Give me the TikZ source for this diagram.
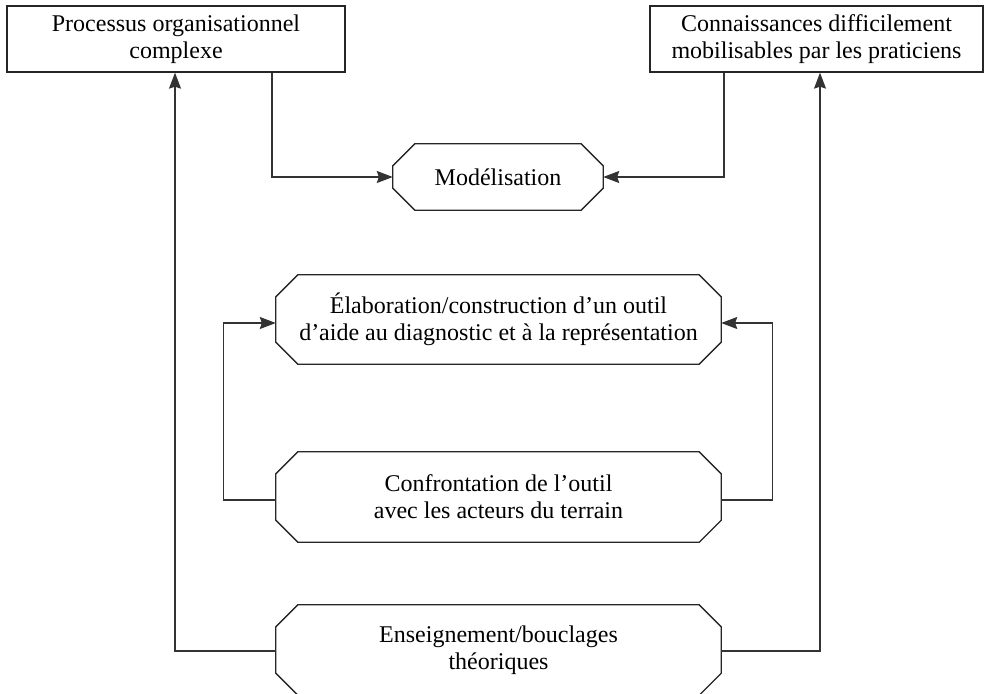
\documentclass[tikz,border=0pt]{standalone}
\usepackage{fontspec}
\setmainfont{Liberation Serif}
\usetikzlibrary{arrows.meta}
\tikzset{
  boxline/.style={line width=1.3pt, draw=black!85, line join=miter},
  rectbox/.style={boxline, draw, rectangle, inner sep=0pt, align=center,
    font=\fontsize{24}{27}\selectfont},
  octbox/.style={rectangle, draw=none, inner sep=0pt, align=center,
    font=\fontsize{24}{27}\selectfont},
  conn/.style={line width=1.3pt, draw=black!80,
    -{Stealth[length=16pt,width=12pt,inset=2pt]}},
}
\begin{document}
\begin{tikzpicture}[x=1pt,y=-1pt]
\useasboundingbox (0,0) rectangle (984,693);
\node[rectbox, minimum width=338pt, minimum height=66pt] (p) at (176,39)
  {Processus organisationnel\\complexe};
\node[rectbox, minimum width=333pt, minimum height=66pt] (c) at (816.5,39)
  {Connaissances difficilement\\mobilisables par les praticiens};
\node[octbox, minimum width=210pt, minimum height=66pt] (mod) at (498,177)
  {Modélisation};
\node[octbox, minimum width=445pt, minimum height=89pt] (elab) at (498.5,319.5)
  {Élaboration/construction d’un outil\\d’aide au diagnostic et à la représentation};
\node[octbox, minimum width=445pt, minimum height=90pt] (conf) at (498.5,497)
  {Confrontation de l’outil\\avec les acteurs du terrain};
\node[octbox, minimum width=445pt, minimum height=90pt] (ens) at (498.5,650)
  {Enseignement/bouclages\\théoriques};
\foreach \n in {mod,elab,conf,ens}{
  \draw[boxline] ([xshift=22pt]\n.north west) -- ([xshift=-22pt]\n.north east)
    -- ([yshift=-22pt]\n.north east) -- ([yshift=22pt]\n.south east)
    -- ([xshift=-22pt]\n.south east) -- ([xshift=22pt]\n.south west)
    -- ([yshift=22pt]\n.south west) -- ([yshift=-22pt]\n.north west) -- cycle;
}
\draw[conn] ([xshift=96pt]p.south) |- (mod.west);
\draw[conn] ([xshift=-92.5pt]c.south) |- (mod.east);
\draw[conn] ([yshift=-1pt]ens.west) -| ([xshift=-1pt]p.south);
\draw[conn] ([yshift=-1pt]ens.east) -| ([xshift=3.5pt]c.south);
\draw[conn] ([yshift=-3pt]conf.west) -- ++(-52,0) |- ([yshift=-3.5pt]elab.west);
\draw[conn] ([yshift=-3pt]conf.east) -- ++(51,0) |- ([yshift=-3.5pt]elab.east);
\end{tikzpicture}
\end{document}
